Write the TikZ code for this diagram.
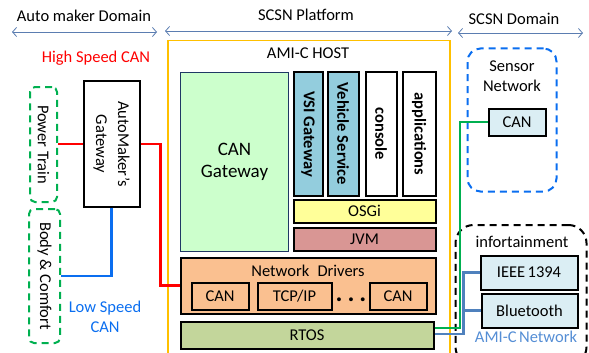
\documentclass[tikz,border=0pt]{standalone}
\usepackage{fontspec}
\setmainfont{Carlito}
\usepackage{graphicx}
\usetikzlibrary{arrows.meta}
\definecolor{cred}{HTML}{FF0000}
\definecolor{cblue}{HTML}{0A6EF0}
\definecolor{cgreen}{HTML}{00B050}
\definecolor{cconn}{HTML}{4F81BD}
\definecolor{camic}{HTML}{558ED5}
\definecolor{corange}{HTML}{FFC000}
\definecolor{cangreen}{HTML}{CCFFCC}
\definecolor{cnavy}{HTML}{1F3864}
\definecolor{vsiblue}{HTML}{93CDDD}
\definecolor{osgiy}{HTML}{FFFF99}
\definecolor{jvmred}{HTML}{D99694}
\definecolor{ndorange}{HTML}{FAC090}
\definecolor{rtosg}{HTML}{C3D69B}
\definecolor{lightb}{HTML}{DBEEF4}
\definecolor{carrow}{HTML}{5B7DB1}
\begin{document}
\begin{tikzpicture}[x=1pt,y=-1pt,
  font=\fontsize{16.5}{20}\selectfont,
  box/.style={draw=black, line width=2pt, inner sep=0pt, align=center},
  dashg/.style={draw=cgreen, line width=2pt, dash pattern=on 7pt off 5pt, rounded corners=5pt, inner sep=0pt},
  sdash/.style={draw=cblue, line width=2pt, dash pattern=on 7pt off 5pt, rounded corners=13pt, inner sep=0pt},
  idash/.style={draw=black, line width=2pt, dash pattern=on 7pt off 5pt, rounded corners=18pt, inner sep=0pt},
  lbl/.style={inner sep=0pt, align=center},
  vbold/.style={box, font=\fontsize{16.5}{20}\selectfont\bfseries},
  redline/.style={draw=cred, line width=2.5pt},
  blueline/.style={draw=cblue, line width=2.5pt},
  greenline/.style={draw=cgreen, line width=1.5pt},
  connline/.style={draw=cconn, line width=2.5pt},
  toparrow/.style={draw=carrow, line width=0.8pt, {Straight Barb[length=4pt,width=9pt]}-{Straight Barb[length=4pt,width=9pt]}}
]
\useasboundingbox (0,0) rectangle (589,353);
\clip (0,0) rectangle (589,353);

% top domain labels and arrows
\node[lbl] (tAuto) at (84,16) {Auto maker Domain};
\node[lbl] (tPlat) at (306,15) {SCSN Platform};
\node[lbl] (tDom) at (514,19) {SCSN Domain};
\coordinate (a1) at (12,32); \coordinate (a2) at (157,32);
\coordinate (b1) at (165,31); \coordinate (b2) at (452,31);
\coordinate (c1) at (458,33); \coordinate (c2) at (583,33);
\draw[toparrow] (a1) -- (a2);
\draw[toparrow] (b1) -- (b2);
\draw[toparrow] (c1) -- (c2);

% automaker domain
\node[lbl, text=cred] (hsc) at (96,58) {High Speed CAN};
\node[dashg, minimum width=27, minimum height=115] (PT) at (43.5,144.5) {\rotatebox{-90}{Power Train}};
\node[dashg, minimum width=31, minimum height=134] (BC) at (44.5,276) {\rotatebox{-90}{Body \& Comfort}};
\node[box, minimum width=56, minimum height=125] (AG) at (111.5,144) {\rotatebox{-90}{\fontsize{16.5}{22}\selectfont\begin{tabular}{@{}c@{}}AutoMaker’s\\Gateway\end{tabular}}};
\node[lbl, text=cblue] (lsc) at (105,317) {\fontsize{16.5}{21}\selectfont Low Speed\\CAN};

% AMI-C host
\node[draw=corange, line width=1.5pt, minimum width=282, minimum height=330, anchor=north west, inner sep=0pt] (HOST) at (167,40) {};
\node[lbl] (hostl) at (308,53) {AMI-C HOST};
\node[draw=cnavy, line width=1.5pt, fill=cangreen, minimum width=108, minimum height=179, inner sep=0pt, align=center, font=\fontsize{19}{22}\selectfont] (CANGW) at (234.5,162) {CAN\\Gateway};
\node[vbold, fill=vsiblue, minimum width=29, minimum height=123] (VSI) at (308,134) {\rotatebox{-90}{VSI Gateway}};
\node[vbold, fill=vsiblue, minimum width=31, minimum height=123] (VS) at (343,134) {\rotatebox{-90}{Vehicle Service}};
\node[vbold, fill=white, minimum width=31, minimum height=123] (CON) at (381,134) {\rotatebox{-90}{console}};
\node[vbold, fill=white, minimum width=33, minimum height=123] (APP) at (419,134) {\rotatebox{-90}{applications}};
\node[box, fill=osgiy, minimum width=142, minimum height=23] (OSGI) at (364.5,211) {OSGi};
\node[box, fill=jvmred, minimum width=142, minimum height=23] (JVM) at (364.5,239) {JVM};
\node[box, fill=ndorange, minimum width=255, minimum height=56] (ND) at (308,285.5) {};
\node[lbl] (ndl) at (308,271) {Network\hspace{0.5em}Drivers};
\node[box, minimum width=57, minimum height=27] (CAN1) at (220,296) {CAN};
\node[box, minimum width=74, minimum height=27] (TCP) at (294.5,296) {TCP/IP};
\node[lbl, font=\fontsize{26}{26}\selectfont\bfseries] (dots) at (351,300) {.\hspace{5pt}.\hspace{5pt}.};
\node[box, minimum width=57, minimum height=27] (CAN2) at (398,296) {CAN};
\node[box, fill=rtosg, minimum width=253, minimum height=27] (RTOS) at (307,335) {RTOS};

% SCSN domain
\node[sdash, minimum width=89, minimum height=143] (SN) at (512,120) {};
\node[lbl] (snl) at (512,76) {\fontsize{16.5}{21}\selectfont Sensor\\Network};
\node[box, fill=lightb, minimum width=57, minimum height=27] (SCAN) at (517,122) {CAN};
\node[idash, minimum width=131, minimum height=140] (INF) at (521,295) {};
\node[lbl] (infl) at (522,242) {infortainment};
\node[box, fill=lightb, minimum width=97, minimum height=34] (IEEE) at (529,272.5) {IEEE\hspace{0.15em}1394};
\node[box, fill=lightb, minimum width=96, minimum height=34] (BT) at (529.5,310.5) {Bluetooth};
\node[lbl, text=camic] (amicn) at (526,337) {AMI-C\hspace{0.15em}Network};

% connectors
\draw[redline] (PT.east |- AG.west) -- (AG.west);
\draw[redline] (AG.east) -- ++(20,0) |- (ND.west);
\draw[blueline] (AG.south) |- (BC.east);
\draw[greenline] ([yshift=7pt]RTOS.east) -- ++(25.5,0) |- (SCAN.west);
\draw[connline] ([yshift=1pt]RTOS.east) -- ++(29,0) coordinate (bj) |- (IEEE.west);
\draw[connline] (bj) |- (BT.west);
\end{tikzpicture}
\end{document}
